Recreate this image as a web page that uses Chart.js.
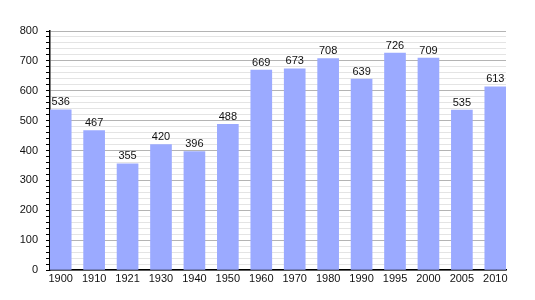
<!DOCTYPE html>
<html>
<head>
<meta charset="utf-8">
<script src="https://cdn.jsdelivr.net/npm/chart.js@4/dist/chart.umd.min.js"></script>
<style>
html,body{margin:0;padding:0;background:#fff;}
#wrap{width:535px;height:300px;position:relative;}
</style>
</head>
<body>
<div id="wrap"><canvas id="c" width="535" height="300"></canvas></div>
<script>
const years = ["1900","1910","1921","1930","1940","1950","1960","1970","1980","1990","1995","2000","2005","2010"];
const population = [536,467,355,420,396,488,669,673,708,639,726,709,535,613];
const yTicks = [0,100,200,300,400,500,600,700,800];

const FONT = "'Liberation Sans', Arial, sans-serif";

const valueLabels = {
  id: 'valueLabels',
  afterDatasetsDraw(chart) {
    const ctx = chart.ctx;
    const meta = chart.getDatasetMeta(0);
    ctx.save();
    ctx.font = "11px " + FONT;
    ctx.fillStyle = "#111";
    ctx.textAlign = "center";
    ctx.textBaseline = "bottom";
    meta.data.forEach((bar, i) => {
      ctx.fillText(String(population[i]), bar.x, bar.y - 2);
    });
    ctx.restore();
  }
};

new Chart(document.getElementById('c'), {
  type: 'bar',
  data: {
    datasets: [{
      data: population.map((v, i) => ({x: i, y: v})),
      backgroundColor: 'rgb(155,170,255)',
      borderWidth: 0,
      barThickness: 21
    }]
  },
  plugins: [valueLabels],
  options: {
    responsive: false,
    animation: false,
    devicePixelRatio: 1,
    layout: {padding: {top: 31, right: 29, left: 0, bottom: 0}},
    plugins: {legend: {display: false}, tooltip: {enabled: false}},
    scales: {
      x: {
        type: 'linear',
        offset: false,
        min: -0.32,
        max: 13.32,
        afterBuildTicks(scale) { scale.ticks = years.map((_, i) => ({value: i})); },
        afterFit(scale) { scale.height = 30; },
        grid: {display: false, drawTicks: false, offset: false},
        border: {display: true, color: '#000', width: 1.5},
        ticks: {
          autoSkip: false,
          maxRotation: 0,
          padding: 2,
          color: '#111',
          font: {family: FONT, size: 11},
          callback: (v) => years[v] !== undefined ? years[v] : ''
        }
      },
      y: {
        min: 0,
        max: 800,
        afterBuildTicks(scale) {
          const t = [];
          for (let v = 0; v <= 800; v += 20) t.push({value: v});
          scale.ticks = t;
        },
        afterFit(scale) { scale.width = 50; },
        border: {display: true, color: '#000', width: 1.5},
        grid: {
          color: (c) => (c.tick && c.tick.value % 100 === 0) ? '#b4b4b4' : '#e4e4e4',
          tickColor: '#000',
          tickLength: 4,
          lineWidth: 1
        },
        ticks: {
          autoSkip: false,
          padding: 8,
          color: '#111',
          font: {family: FONT, size: 11},
          callback: (v) => yTicks.includes(v) ? String(v) : ''
        }
      }
    }
  }
});
</script>
</body>
</html>
